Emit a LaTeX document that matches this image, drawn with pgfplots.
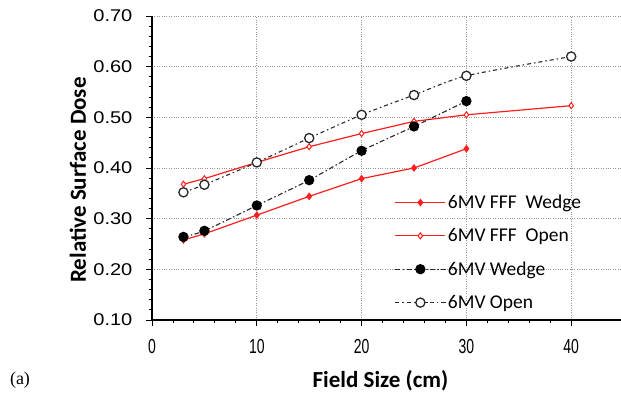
\documentclass[border=0pt]{standalone}
\usepackage{fontspec}
\setmainfont{Liberation Sans}
\newfontfamily\carlito{Carlito}
\newfontfamily\timesf{Liberation Serif}
\usepackage{pgfplots}
\pgfplotsset{compat=1.18}
\definecolor{myred}{RGB}{255,30,30}
\definecolor{gridgray}{RGB}{150,150,150}
\definecolor{dark}{RGB}{40,40,40}
\begin{document}
\begin{tikzpicture}[x=1pt,y=1pt]
\useasboundingbox (0,0) rectangle (621,395);
\begin{axis}[
  at={(152pt,75pt)}, anchor=south west,
  scale only axis, width=471.6pt, height=304pt,
  xmin=0, xmax=45, ymin=0.10, ymax=0.70,
  axis x line*=bottom, axis y line*=left,
  axis line style={line width=1.1pt,-},
  xtick={0,10,20,30,40},
  ytick={0.1,0.2,0.3,0.4,0.5,0.6,0.7},
  minor x tick num=4, minor y tick num=4,
  tick align=outside, major tick length=6pt, minor tick length=3.5pt,
  tick style={black, line width=0.9pt},
  grid=major, grid style={gridgray, dotted, line width=0.7pt},
  /pgf/number format/assume math mode=true,
  yticklabel style={/pgf/number format/.cd, fixed, fixed zerofill, precision=2, /tikz/.cd,
     font=\fontsize{17}{17}\selectfont, xscale=1.18, xshift=-8pt},
  xticklabel style={font=\fontsize{14}{14}\selectfont, yscale=1.45, yshift=-6pt},
  xlabel={Field Size (cm)},
  ylabel={Relative Surface Dose},
  xlabel style={font=\carlito\bfseries\fontsize{23}{23}\selectfont,
     at={(axis description cs:0.4845,-0.2007)}, anchor=center},
  ylabel style={font=\carlito\bfseries\fontsize{23}{23}\selectfont,
     at={(axis description cs:-0.157,0.4605)}, anchor=center},
  legend style={draw=none, fill=none, at={(0.508,0.425)}, anchor=north west,
     font=\carlito\fontsize{19.5}{21}\selectfont, row sep=14.5pt,
     /tikz/every even column/.append style={column sep=4pt}},
  legend cell align=left,
  legend image code/.code={\draw[mark repeat=2,mark phase=2,#1] plot coordinates {(0pt,0pt) (25pt,0pt) (50pt,0pt)};},
]
\addplot[myred, line width=1.2pt, mark=diamond*, mark size=3pt, mark options={solid, fill=myred}]
  coordinates {(3,0.258)(5,0.270)(10,0.307)(15,0.344)(20,0.379)(25,0.400)(30,0.438)};
\addlegendentry{6MV FFF\ \ Wedge}
\addplot[myred, line width=1.2pt, mark=diamond*, mark size=3pt, mark options={solid, fill=white, line width=1pt}]
  coordinates {(3,0.368)(5,0.379)(10,0.411)(15,0.442)(20,0.468)(25,0.492)(30,0.505)(40,0.523)};
\addlegendentry{6MV FFF\ \ Open}
\addplot[dark, line width=1.1pt, smooth, tension=0.4, dash pattern=on 5pt off 2.5pt on 1.5pt off 2.5pt,
   mark=*, mark size=4.6pt, mark options={solid, fill=black, draw=black}]
  coordinates {(3,0.264)(5,0.276)(10,0.326)(15,0.376)(20,0.434)(25,0.482)(30,0.532)};
\addlegendentry{6MV Wedge}
\addplot[dark, line width=1.1pt, smooth, tension=0.4, dash pattern=on 4pt off 3pt on 1.5pt off 3pt,
   mark=*, mark size=4.6pt, mark options={solid, fill=white, draw=dark, line width=1.3pt}]
  coordinates {(3,0.352)(5,0.367)(10,0.411)(15,0.459)(20,0.505)(25,0.544)(30,0.582)(40,0.620)};
\addlegendentry{6MV Open}
\end{axis}
\node[font=\timesf\fontsize{18}{18}\selectfont] at (20,15) {(a)};
\end{tikzpicture}
\end{document}
